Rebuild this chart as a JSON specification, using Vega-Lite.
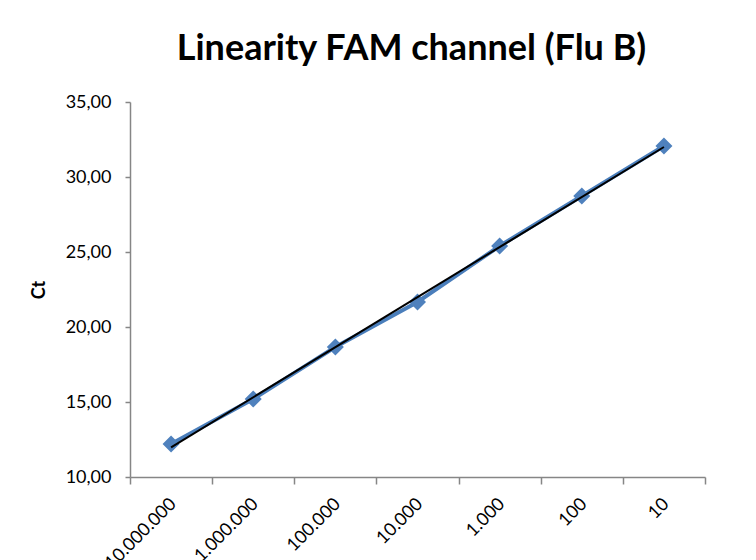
{
  "$schema": "https://vega.github.io/schema/vega-lite/v6.json",
  "autosize": "none",
  "width": 575,
  "height": 375,
  "padding": {"left": 130, "top": 102, "right": 51, "bottom": 83},
  "background": "white",
  "title": {
    "text": "Linearity FAM channel (Flu B)",
    "font": "Lato",
    "fontSize": 36,
    "fontWeight": "bold",
    "color": "#000000",
    "anchor": "middle",
    "frame": "group",
    "baseline": "alphabetic",
    "dx": -6,
    "offset": -3
  },
  "datasets": {
    "series": [
      {"dilution": "10.000.000", "ct": 12.2},
      {"dilution": "1.000.000", "ct": 15.2},
      {"dilution": "100.000", "ct": 18.67},
      {"dilution": "10.000", "ct": 21.67},
      {"dilution": "1.000", "ct": 25.4},
      {"dilution": "100", "ct": 28.73},
      {"dilution": "10", "ct": 32.07}
    ],
    "trend": [
      {"dilution": "10.000.000", "ct": 11.98},
      {"dilution": "10", "ct": 32.0}
    ]
  },
  "encoding": {
    "x": {
      "field": "dilution",
      "type": "ordinal",
      "sort": null,
      "scale": {
        "type": "band",
        "domain": ["10.000.000", "1.000.000", "100.000", "10.000", "1.000", "100", "10"],
        "paddingInner": 0,
        "paddingOuter": 0
      },
      "axis": {
        "title": null,
        "tickBand": "extent",
        "labelAngle": 315,
        "labelAlign": "right",
        "labelBaseline": "middle",
        "labelPadding": 17,
        "labelOffset": 2,
        "labelFont": "Lato",
        "labelFontSize": 18,
        "labelColor": "#000000",
        "domainColor": "#868686",
        "domainWidth": 1.5,
        "tickColor": "#868686",
        "tickWidth": 1.5,
        "tickSize": 7,
        "grid": false
      }
    },
    "y": {
      "field": "ct",
      "type": "quantitative",
      "scale": {"domain": [10, 35], "nice": false, "zero": false},
      "axis": {
        "title": "Ct",
        "titleFont": "Lato",
        "titleFontSize": 18,
        "titleFontWeight": "bold",
        "titleColor": "#000000",
        "titlePadding": 17,
        "values": [10, 15, 20, 25, 30, 35],
        "labelExpr": "replace(format(datum.value, '.2f'), '.', ',')",
        "labelFont": "Lato",
        "labelFontSize": 18,
        "labelColor": "#000000",
        "labelPadding": 14,
        "domainColor": "#868686",
        "domainWidth": 1.5,
        "tickColor": "#868686",
        "tickWidth": 1.5,
        "tickSize": 5,
        "grid": false
      }
    }
  },
  "layer": [
    {
      "data": {"name": "series"},
      "mark": {"type": "line", "color": "#4A7EBB", "strokeWidth": 4},
      "encoding": {}
    },
    {
      "data": {"name": "series"},
      "mark": {"type": "point", "shape": "diamond", "filled": true, "color": "#4F81BD", "size": 290, "opacity": 1},
      "encoding": {}
    },
    {
      "data": {"name": "trend"},
      "mark": {"type": "line", "color": "#000000", "strokeWidth": 2},
      "encoding": {}
    }
  ],
  "config": {
    "view": {"stroke": null}
  }
}
